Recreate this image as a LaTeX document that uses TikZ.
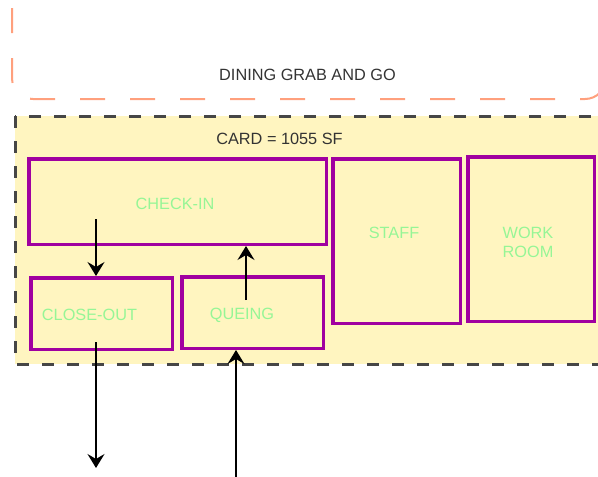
\documentclass[tikz,border=0pt]{standalone}
\usepackage{fontspec}
\setmainfont{Liberation Sans}
\usetikzlibrary{arrows.meta}
\definecolor{roompurple}{RGB}{160,0,160}
\definecolor{labelgreen}{RGB}{150,245,150}
\definecolor{areayellow}{RGB}{255,245,192}
\definecolor{dashgray}{RGB}{70,70,70}
\definecolor{dashorange}{RGB}{255,160,125}
\tikzset{
  room/.style={draw=roompurple, line width=3.5pt, fill=areayellow, inner sep=0pt},
  gtxt/.style={text=labelgreen, font=\fontsize{16.3}{19}\selectfont, inner sep=0pt, align=center},
  btxt/.style={text=black!80, font=\fontsize{16.3}{19}\selectfont, inner sep=0pt},
  flow/.style={draw=black, line width=1.6pt, -{Stealth[length=14pt,width=17pt,inset=5pt]}},
}
\begin{document}
\begin{tikzpicture}[x=1pt,y=-1pt]
\useasboundingbox (0,0) rectangle (598,477);
\clip (0,0) rectangle (598,477);
% outer zones
\draw[dashorange, line width=2pt, dash pattern=on 25pt off 25pt, rounded corners=21pt]
  (12,-42) -- (12,99) -- (606,99) -- (606,-42);
\node[btxt] (dining) at (307.5,75) {DINING GRAB AND GO};
\draw[dashgray, fill=areayellow, line width=3pt, dash pattern=on 12pt off 13pt]
  (15,116) rectangle (630,364);
\node[btxt] (card) at (279.5,139) {CARD = 1055 SF};
% rooms
\node[room, minimum width=297.5pt, minimum height=85.5pt] (checkin) at (177.5,201.5) {};
\node[gtxt] (checkinlbl) at (175,204) {CHECK-IN};
\node[room, minimum width=127.5pt, minimum height=164.5pt] (staff) at (396.5,241) {};
\node[gtxt] (stafflbl) at (394,233) {STAFF};
\node[room, minimum width=126.5pt, minimum height=164.5pt] (work) at (531,239) {};
\node[gtxt] (worklbl) at (528,242) {WORK\\ROOM};
\node[room, minimum width=141.5pt, minimum height=71.5pt] (closeout) at (101.5,313.5) {};
\node[gtxt] (closeoutlbl) at (89.5,315) {CLOSE-OUT};
\node[room, minimum width=141.5pt, minimum height=71.5pt] (queing) at (252.5,312.5) {};
\node[gtxt] (queinglbl) at (242,315) {QUEING};
% flows
\coordinate (a1) at (96,219);
\coordinate (a2) at (246,300);
\coordinate (a3) at (96,342);
\coordinate (a3e) at (96,468);
\coordinate (a4) at (236,480);
\draw[flow] (a1) -- (a1 |- closeout.north);
\draw[flow] (a2) -- (a2 |- checkin.south);
\draw[flow] (a3) -- (a3e);
\draw[flow] (a4) -- (a4 |- queing.south);
\end{tikzpicture}
\end{document}
